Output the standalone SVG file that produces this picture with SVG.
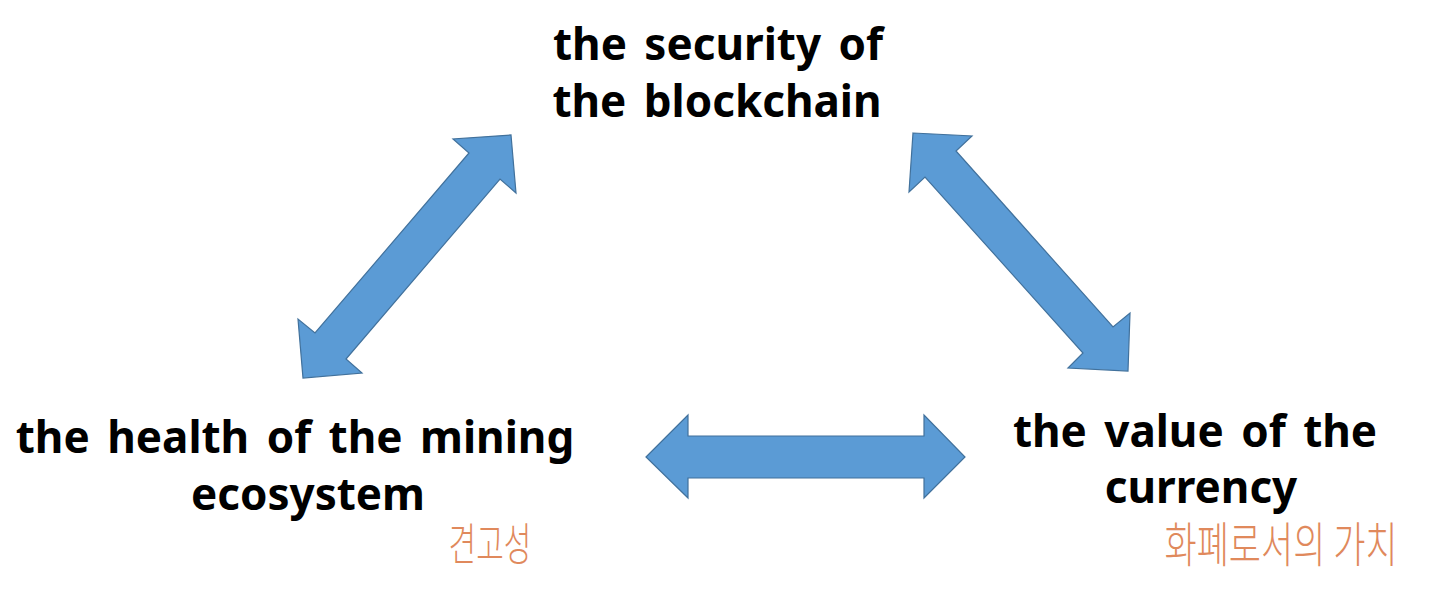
<svg xmlns="http://www.w3.org/2000/svg" width="1431" height="593" viewBox="0 0 1431 593">
<style>
.lbl{font-family:"Noto Sans","Liberation Sans",sans-serif;font-weight:bold;font-size:44px;fill:#000;text-anchor:middle;word-spacing:6px}
.note{font-family:"Noto Sans CJK KR","Noto Sans",sans-serif;font-weight:300;fill:#E0895C;text-anchor:middle}
.arrow{fill:#5B9BD5;stroke:#41719C;stroke-width:1.2;stroke-linejoin:miter}
</style>
<rect width="1431" height="593" fill="#fff"/>
<g id="connectors">
<polygon class="arrow" points="511,135 516,193 500,179 346,359 362,373 303,378 298,319 315,333 469,153 453,139"/>
<polygon class="arrow" points="913,133 972,136 956,151 1113,327 1130,313 1128,371 1068,368 1083,353 925,177 909,192"/>
<polygon class="arrow" points="646,457 688,415 688,436 924,436 924,415 965,457 924,498 924,478 688,478 688,498"/>
</g>
<g id="node-security">
<text class="lbl" x="718" y="60">the security of</text>
<text class="lbl" x="717" y="117">the blockchain</text>
</g>
<g id="node-health">
<text class="lbl" x="295" y="453">the health of the mining</text>
<text class="lbl" x="308" y="510">ecosystem</text>
<text class="note" x="490" y="0" font-size="30" transform="translate(0,561) scale(1,1.5)">견고성</text>
</g>
<g id="node-value">
<text class="lbl" x="1195" y="447">the value of the</text>
<text class="lbl" x="1201" y="503">currency</text>
<text class="note" x="1281" y="0" font-size="35" transform="translate(0,562) scale(1,1.35)">화폐로서의 가치</text>
</g>
</svg>
